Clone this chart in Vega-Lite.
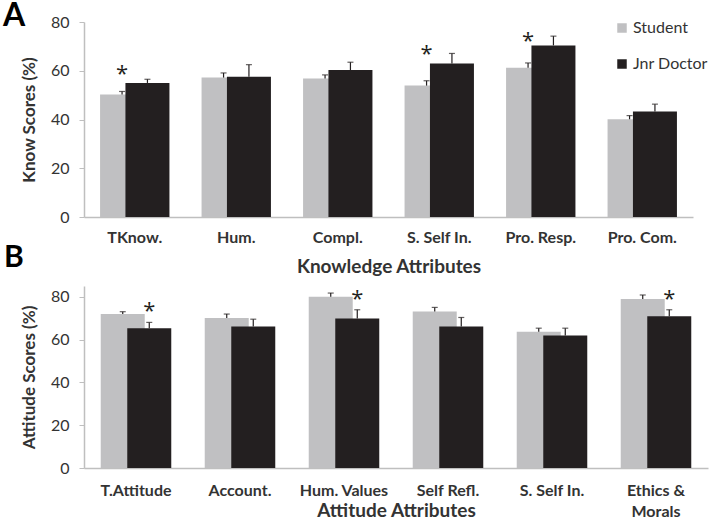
{
  "$schema": "https://vega.github.io/schema/vega-lite/v6.json",
  "padding": {"left": 3, "top": 0, "right": 3, "bottom": 3},
  "background": "white",
  "config": {
    "font": "Lato",
    "view": {"stroke": null},
    "axis": {
      "labelFont": "Lato", "titleFont": "Lato",
      "labelColor": "#333333", "titleColor": "#333333",
      "domainColor": "#bfbfbf", "domainWidth": 1.5,
      "tickColor": "#bfbfbf", "grid": false
    },
    "axisX": {"ticks": false, "labelAngle": 0, "labelFontSize": 16, "labelFontWeight": "bold", "titleFontSize": 19, "titleFontWeight": "bold"},
    "axisY": {"tickSize": 5, "labelFontSize": 16, "labelPadding": 10, "titleFontSize": 17, "titleFontWeight": "bold", "titlePadding": 12, "values": [0, 20, 40, 60, 80]}
  },
  "datasets": {
    "bars": [
      {"panel": "A", "attr": "TKnow.", "group": "Student", "value": 50.3, "err": 51.5},
      {"panel": "A", "attr": "Hum.", "group": "Student", "value": 57.2, "err": 59.1},
      {"panel": "A", "attr": "Compl.", "group": "Student", "value": 56.8, "err": 58.3},
      {"panel": "A", "attr": "S. Self In.", "group": "Student", "value": 53.9, "err": 55.9},
      {"panel": "A", "attr": "Pro. Resp.", "group": "Student", "value": 61.2, "err": 63.2},
      {"panel": "A", "attr": "Pro. Com.", "group": "Student", "value": 40.1, "err": 41.6},
      {"panel": "A", "attr": "TKnow.", "group": "Jnr Doctor", "value": 55.0, "err": 56.5},
      {"panel": "A", "attr": "Hum.", "group": "Jnr Doctor", "value": 57.5, "err": 62.5},
      {"panel": "A", "attr": "Compl.", "group": "Jnr Doctor", "value": 60.3, "err": 63.5},
      {"panel": "A", "attr": "S. Self In.", "group": "Jnr Doctor", "value": 63.0, "err": 67.1},
      {"panel": "A", "attr": "Pro. Resp.", "group": "Jnr Doctor", "value": 70.4, "err": 74.2},
      {"panel": "A", "attr": "Pro. Com.", "group": "Jnr Doctor", "value": 43.3, "err": 46.3},
      {"panel": "B", "attr": "T.Attitude", "group": "Student", "value": 71.9, "err": 73.0},
      {"panel": "B", "attr": "Account.", "group": "Student", "value": 70.0, "err": 71.9},
      {"panel": "B", "attr": "Hum. Values", "group": "Student", "value": 80.0, "err": 81.7},
      {"panel": "B", "attr": "Self Refl.", "group": "Student", "value": 73.1, "err": 75.0},
      {"panel": "B", "attr": "S. Self In.", "group": "Student", "value": 63.6, "err": 65.3},
      {"panel": "B", "attr": "Ethics & Morals", "group": "Student", "value": 78.9, "err": 80.8},
      {"panel": "B", "attr": "T.Attitude", "group": "Jnr Doctor", "value": 65.3, "err": 68.0},
      {"panel": "B", "attr": "Account.", "group": "Jnr Doctor", "value": 66.1, "err": 69.5},
      {"panel": "B", "attr": "Hum. Values", "group": "Jnr Doctor", "value": 69.8, "err": 73.9},
      {"panel": "B", "attr": "Self Refl.", "group": "Jnr Doctor", "value": 66.1, "err": 70.3},
      {"panel": "B", "attr": "S. Self In.", "group": "Jnr Doctor", "value": 61.9, "err": 65.3},
      {"panel": "B", "attr": "Ethics & Morals", "group": "Jnr Doctor", "value": 70.9, "err": 73.9}
    ],
    "stars": [
      {"panel": "A", "attr": "TKnow.", "group": "Student", "pos": 60.9, "label": "*"},
      {"panel": "A", "attr": "S. Self In.", "group": "Student", "pos": 69.1, "label": "*"},
      {"panel": "A", "attr": "Pro. Resp.", "group": "Student", "pos": 74.2, "label": "*"},
      {"panel": "B", "attr": "T.Attitude", "group": "Jnr Doctor", "pos": 75.8, "label": "*"},
      {"panel": "B", "attr": "Hum. Values", "group": "Jnr Doctor", "pos": 81.3, "label": "*"},
      {"panel": "B", "attr": "Ethics & Morals", "group": "Jnr Doctor", "pos": 81.3, "label": "*"}
    ]
  },
  "bounds": "flush",
  "spacing": 69,
  "resolve": {"scale": {"x": "independent", "y": "independent", "xOffset": "independent", "color": "independent"}, "legend": {"color": "independent"}},
  "vconcat": [
    {
      "width": 609,
      "height": 195,
      "title": {"text": "A", "anchor": "start", "frame": "group", "fontSize": 32, "fontWeight": "bold", "color": "#000000", "dx": -81, "offset": -19},
      "encoding": {
        "x": {"field": "attr", "type": "nominal", "scale": {"domain": ["TKnow.", "Hum.", "Compl.", "S. Self In.", "Pro. Resp.", "Pro. Com."], "paddingInner": 0, "paddingOuter": 0}, "axis": {"title": "Knowledge Attributes", "labelPadding": 12, "titlePadding": 12}},
        "xOffset": {"field": "group", "type": "nominal", "scale": {"domain": ["Student", "Jnr Doctor"], "paddingInner": 0, "paddingOuter": 1.03}}
      },
      "layer": [
        {
          "data": {"name": "bars"},
          "transform": [{"filter": "datum.panel == 'A'"}],
          "mark": {"type": "bar", "width": 44},
          "encoding": {
            "y": {"field": "value", "type": "quantitative", "scale": {"domain": [0, 80]}, "axis": {"title": "Know Scores (%)"}},
            "color": {"field": "group", "type": "nominal", "scale": {"domain": ["Student", "Jnr Doctor"], "range": ["#c0c0c2", "#231f20"]},
              "legend": {"orient": "none", "legendX": 530, "legendY": -2, "title": null, "symbolType": "square", "symbolSize": 90, "symbolStrokeWidth": 0, "labelFontSize": 16, "labelColor": "#333333", "labelFont": "Lato", "rowPadding": 20, "labelOffset": 3, "padding": 0}}
          }
        },
        {
          "data": {"name": "bars"},
          "transform": [{"filter": "datum.panel == 'A'"}],
          "mark": {"type": "rule", "color": "#231f20", "strokeWidth": 1.2},
          "encoding": {"y": {"field": "value", "type": "quantitative"}, "y2": {"field": "err"}}
        },
        {
          "data": {"name": "bars"},
          "transform": [{"filter": "datum.panel == 'A'"}],
          "mark": {"type": "tick", "size": 6, "thickness": 1.2, "color": "#231f20"},
          "encoding": {"y": {"field": "err", "type": "quantitative"}}
        },
        {
          "data": {"name": "stars"},
          "transform": [{"filter": "datum.panel == 'A'"}],
          "mark": {"type": "text", "font": "Open Sans", "fontSize": 22, "fill": "#231f20", "color": "#231f20", "baseline": "middle", "dy": 5},
          "encoding": {"y": {"field": "pos", "type": "quantitative"}, "text": {"field": "label"}}
        }
      ]
    },
    {
      "width": 624,
      "height": 182,
      "title": {"text": "B", "anchor": "start", "frame": "group", "fontSize": 30, "fontWeight": "bold", "color": "#000000", "dx": -80, "offset": 13},
      "encoding": {
        "x": {"field": "attr", "type": "nominal", "scale": {"domain": ["T.Attitude", "Account.", "Hum. Values", "Self Refl.", "S. Self In.", "Ethics & Morals"], "paddingInner": 0, "paddingOuter": 0},
          "axis": {"title": "Attitude Attributes", "labelPadding": 14, "labelLineHeight": 21, "labelExpr": "datum.value == 'Ethics & Morals' ? ['Ethics &', 'Morals'] : datum.label", "titleY": 33, "titleBaseline": "top"}},
        "xOffset": {"field": "group", "type": "nominal", "scale": {"domain": ["Student", "Jnr Doctor"], "paddingInner": 0, "paddingOuter": 0.96}}
      },
      "layer": [
        {
          "data": {"name": "bars"},
          "transform": [{"filter": "datum.panel == 'B'"}],
          "mark": {"type": "bar", "width": 44},
          "encoding": {
            "y": {"field": "value", "type": "quantitative", "scale": {"domain": [0, 85], "nice": false}, "axis": {"title": "Attitude Scores (%)"}},
            "color": {"field": "group", "type": "nominal", "scale": {"domain": ["Student", "Jnr Doctor"], "range": ["#c0c0c2", "#231f20"]}, "legend": null}
          }
        },
        {
          "data": {"name": "bars"},
          "transform": [{"filter": "datum.panel == 'B'"}],
          "mark": {"type": "rule", "color": "#231f20", "strokeWidth": 1.2},
          "encoding": {"y": {"field": "value", "type": "quantitative"}, "y2": {"field": "err"}}
        },
        {
          "data": {"name": "bars"},
          "transform": [{"filter": "datum.panel == 'B'"}],
          "mark": {"type": "tick", "size": 6, "thickness": 1.2, "color": "#231f20"},
          "encoding": {"y": {"field": "err", "type": "quantitative"}}
        },
        {
          "data": {"name": "stars"},
          "transform": [{"filter": "datum.panel == 'B'"}],
          "mark": {"type": "text", "font": "Open Sans", "fontSize": 22, "fill": "#231f20", "color": "#231f20", "baseline": "middle", "dy": 5},
          "encoding": {"y": {"field": "pos", "type": "quantitative"}, "text": {"field": "label"}}
        }
      ]
    }
  ]
}
